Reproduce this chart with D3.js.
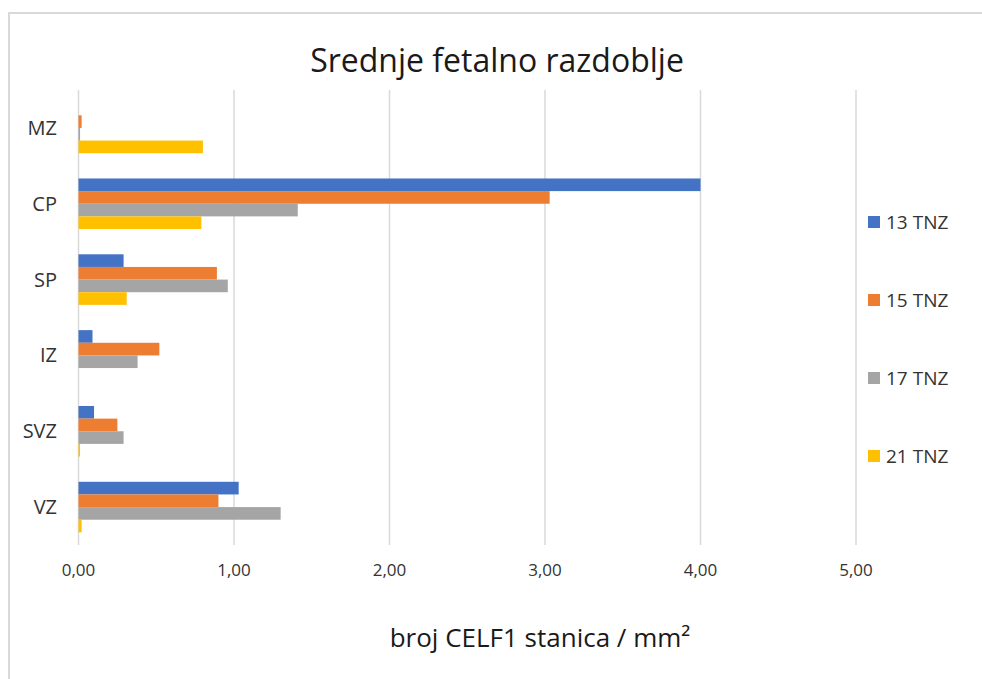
<!DOCTYPE html>
<html>
<head>
<meta charset="utf-8">
<script src="https://cdn.jsdelivr.net/npm/d3@7"></script>
<style>
  body { margin: 0; background: #fff; overflow: hidden; }
  svg { display: block; }
  text { font-family: "Open Sans", "Noto Sans", sans-serif; }
</style>
</head>
<body>
<div id="chart"></div>
<script>
// categories, bottom -> top as in the spreadsheet
var categories = ["VZ", "SVZ", "IZ", "SP", "CP", "MZ"];
var seriesNames = ["13 TNZ", "15 TNZ", "17 TNZ", "21 TNZ"];

var tnz13 = [1.03, 0.10, 0.09, 0.29, 4.00, 0.00];
var tnz15 = [0.90, 0.25, 0.52, 0.89, 3.03, 0.02];
var tnz17 = [1.30, 0.29, 0.38, 0.96, 1.41, 0.01];
var tnz21 = [0.02, 0.01, 0.00, 0.31, 0.79, 0.80];

var xTicks = [0, 1, 2, 3, 4, 5];
var colors = ["#4472C4", "#ED7D31", "#A5A5A5", "#FFC000"];

var width = 982, height = 679;

var svg = d3.select("#chart").append("svg")
    .attr("width", width)
    .attr("height", height);

// chart border: only top and left edges are inside the picture
svg.append("path")
    .attr("d", "M9," + height + "V13H" + width)
    .attr("fill", "none")
    .attr("stroke", "#d9d9d9")
    .attr("stroke-width", 2);

var x = d3.scaleLinear()
    .domain([0, 5])
    .range([78.5, 856]);

// top of chart is the last category
var y = d3.scaleBand()
    .domain(categories.slice().reverse())
    .range([90, 545])
    .paddingInner(1 / 3)
    .paddingOuter(1 / 6);

var ySub = d3.scaleBand()
    .domain(seriesNames)
    .range([0, y.bandwidth()]);

// gridlines
svg.append("g").selectAll("line")
    .data(xTicks)
    .enter().append("line")
      .attr("x1", function(d) { return x(d); })
      .attr("x2", function(d) { return x(d); })
      .attr("y1", 90)
      .attr("y2", 545)
      .attr("stroke", "#d9d9d9")
      .attr("stroke-width", 1.5);

var series = [tnz13, tnz15, tnz17, tnz21];

var rows = [];
categories.forEach(function(c, i) {
  series.forEach(function(s, j) {
    rows.push({cat: c, name: seriesNames[j], value: s[i], color: colors[j]});
  });
});

svg.append("g").selectAll("rect")
    .data(rows)
    .enter().append("rect")
      .attr("x", x(0))
      .attr("y", function(d) { return y(d.cat) + ySub(d.name); })
      .attr("width", function(d) { return x(d.value) - x(0); })
      .attr("height", ySub.bandwidth())
      .attr("fill", function(d) { return d.color; });

// x tick labels
svg.append("g").selectAll("text")
    .data(xTicks)
    .enter().append("text")
      .attr("x", function(d) { return x(d); })
      .attr("y", 576)
      .attr("text-anchor", "middle")
      .attr("font-size", 17)
      .attr("fill", "#333")
      .text(function(d) { return d3.format(".2f")(d).replace(".", ","); });

// category labels
svg.append("g").selectAll("text")
    .data(categories)
    .enter().append("text")
      .attr("x", 57)
      .attr("y", function(d) { return y(d) + y.bandwidth() / 2; })
      .attr("dy", "0.35em")
      .attr("text-anchor", "end")
      .attr("font-size", 20)
      .attr("fill", "#333")
      .text(function(d) { return d; });

// title
svg.append("text")
    .attr("x", 497)
    .attr("y", 72)
    .attr("text-anchor", "middle")
    .attr("font-size", 32)
    .attr("fill", "#1a1a1a")
    .text("Srednje fetalno razdoblje");

// axis title
svg.append("text")
    .attr("x", 540)
    .attr("y", 647)
    .attr("text-anchor", "middle")
    .attr("font-size", 26)
    .attr("fill", "#1a1a1a")
    .text("broj CELF1 stanica / mm²");

// legend
var legend = svg.append("g").selectAll("g")
    .data(seriesNames)
    .enter().append("g")
      .attr("transform", function(d, i) { return "translate(868," + (222 + i * 78) + ")"; });

legend.append("rect")
    .attr("x", 0)
    .attr("y", -6)
    .attr("width", 12)
    .attr("height", 12)
    .attr("fill", function(d, i) { return colors[i]; });

legend.append("text")
    .attr("x", 18)
    .attr("dy", "0.35em")
    .attr("font-size", 19)
    .attr("fill", "#333")
    .text(function(d) { return d; });
</script>
</body>
</html>
